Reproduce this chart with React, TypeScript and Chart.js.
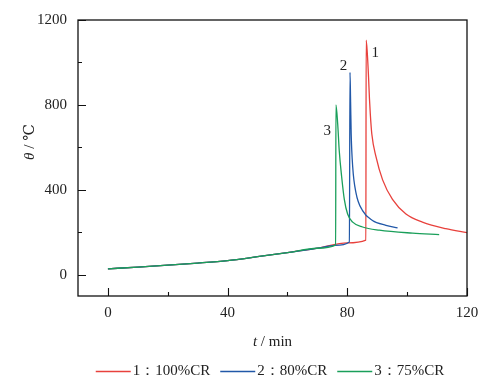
import React, { useEffect, useRef } from 'react';
import { Chart, registerables } from 'chart.js';
Chart.register(...registerables);

// Curve 1: 100%CR (red)
const redT = [0, 10, 20, 30, 40, 50, 60, 70, 80, 86.2, 86.3, 86.7, 87.1, 87.4, 87.7, 88.2, 89.6, 91.8, 95.1, 99.6, 105.1, 112.9, 120];
const redV = [28, 36, 45, 55, 67, 85, 104, 125, 150, 163, 1105, 1040, 930, 830, 754, 662, 555, 447, 355, 286, 248, 217, 198];
// Curve 2: 80%CR (blue)
const blueT = [0, 10, 20, 30, 40, 50, 60, 70, 76, 80.7, 80.9, 81.1, 81.3, 81.8, 82.9, 85.1, 88.4, 92.9, 96.8];
const blueV = [28, 36, 45, 55, 67, 85, 104, 125, 138, 154, 953, 815, 662, 509, 386, 302, 256, 233, 221];
// Curve 3: 75%CR (green)
const greenT = [0, 10, 20, 30, 40, 50, 60, 70, 76.1, 76.2, 76.8, 77.3, 78.1, 79, 80.1, 81.8, 85.1, 90.7, 101.8, 110.7];
const greenV = [28, 36, 45, 55, 67, 85, 104, 125, 141, 800, 708, 585, 463, 355, 286, 248, 225, 210, 196, 189];

const seriesNames = ['1：100%CR', '2：80%CR', '3：75%CR'];
const seriesColors = ['#e8413c', '#2158a8', '#1a9f5a'];
const curveLabels = ['1', '2', '3'];
const curveLabelT = [89.3, 78.7, 73.3];
const curveLabelV = [1044, 984, 676];

const xTicks = [0, 20, 40, 60, 80, 100, 120];
const xLabels = [0, 40, 80, 120];
const yTicks = [0, 200, 400, 600, 800, 1000, 1200];
const yLabels = [0, 400, 800, 1200];
const xMin = -10, xMax = 120, yMin = -100, yMax = 1200;

const FONT = '"Liberation Serif", "DejaVu Serif", serif';

const pts = (t: number[], v: number[]) => t.map((x, i) => ({ x, y: v[i] }));

const decorPlugin = {
  id: 'decor',
  afterDraw(chart: any) {
    const ctx = chart.ctx as CanvasRenderingContext2D;
    const { left, right, top, bottom } = chart.chartArea;
    const xs = chart.scales.x, ys = chart.scales.y;
    ctx.save();
    ctx.strokeStyle = '#111';
    ctx.lineWidth = 1.3;
    ctx.strokeRect(left, top, right - left, bottom - top);
    // inner ticks
    ctx.lineWidth = 1.1;
    ctx.beginPath();
    xTicks.forEach(v => {
      const px = Math.round(xs.getPixelForValue(v)) + 0.5;
      const len = xLabels.includes(v) ? 8 : 4;
      ctx.moveTo(px, bottom); ctx.lineTo(px, bottom - len);
    });
    yTicks.forEach(v => {
      const py = Math.round(ys.getPixelForValue(v)) + 0.5;
      const len = yLabels.includes(v) ? 8 : 4;
      ctx.moveTo(left, py); ctx.lineTo(left + len, py);
    });
    ctx.stroke();
    // curve labels
    ctx.fillStyle = '#222';
    ctx.font = `15px ${FONT}`;
    ctx.textAlign = 'center';
    ctx.textBaseline = 'middle';
    curveLabels.forEach((s, i) => {
      ctx.fillText(s, xs.getPixelForValue(curveLabelT[i]), ys.getPixelForValue(curveLabelV[i]));
    });
    // x title: "t / min"
    const cx = (left + right) / 2;
    ctx.textAlign = 'left';
    ctx.textBaseline = 'middle';
    ctx.font = `italic 15px ${FONT}`;
    const wt = ctx.measureText('t').width;
    ctx.font = `15px ${FONT}`;
    const wr = ctx.measureText(' / min').width;
    const x0 = cx - (wt + wr) / 2;
    ctx.font = `italic 15px ${FONT}`;
    ctx.fillText('t', x0, 342);
    ctx.font = `15px ${FONT}`;
    ctx.fillText(' / min', x0 + wt, 342);
    // y title: "θ / ℃"
    ctx.save();
    ctx.translate(30, 142);
    ctx.rotate(-Math.PI / 2);
    ctx.font = `italic 15px ${FONT}`;
    const wth = ctx.measureText('θ').width;
    ctx.font = `15px ${FONT}`;
    const wrest = ctx.measureText(' / ℃').width;
    const y0 = -(wth + wrest) / 2;
    ctx.font = `italic 15px ${FONT}`;
    ctx.fillText('θ', y0, 0);
    ctx.font = `15px ${FONT}`;
    ctx.fillText(' / ℃', y0 + wth, 0);
    ctx.restore();
    // legend
    ctx.font = `15px ${FONT}`;
    const lineLen = 35, gapA = 2, gapB = 10;
    const widths = seriesNames.map(s => ctx.measureText(s).width);
    const total = widths.reduce((a, b) => a + b, 0) + seriesNames.length * (lineLen + gapA) + (seriesNames.length - 1) * gapB;
    let lx = 270 - total / 2;
    const ly = 371;
    seriesNames.forEach((s, i) => {
      ctx.strokeStyle = seriesColors[i];
      ctx.lineWidth = 1.3;
      ctx.beginPath();
      ctx.moveTo(lx, ly + 0.5); ctx.lineTo(lx + lineLen, ly + 0.5);
      ctx.stroke();
      ctx.fillStyle = '#222';
      ctx.fillText(s, lx + lineLen + gapA, ly);
      lx += lineLen + gapA + widths[i] + gapB;
    });
    ctx.restore();
  },
};

export default function App() {
  const ref = useRef<HTMLCanvasElement>(null);
  useEffect(() => {
    if (!ref.current) return;
    const mk = (label: string, t: number[], v: number[], color: string) => ({
      label, data: pts(t, v), borderColor: color, backgroundColor: color,
      borderWidth: 1.3, pointRadius: 0, showLine: true, cubicInterpolationMode: 'monotone', fill: false,
    });
    const chart = new Chart(ref.current, {
      type: 'scatter',
      data: {
        datasets: [
          mk(seriesNames[2], greenT, greenV, seriesColors[2]),
          mk(seriesNames[1], blueT, blueV, seriesColors[1]),
          mk(seriesNames[0], redT, redV, seriesColors[0]),
        ],
      },
      options: {
        animation: false,
        responsive: false,
        devicePixelRatio: 1,
        layout: { padding: { left: 0, top: 13, right: 33, bottom: 34 } },
        plugins: { legend: { display: false }, tooltip: { enabled: false } },
        scales: {
          x: {
            type: 'linear', min: xMin, max: xMax,
            afterFit: (s: any) => { s.height = 58; },
            afterBuildTicks: (s: any) => { s.ticks = xTicks.map(v => ({ value: v })); },
            grid: { display: false, drawTicks: false },
            border: { display: false },
            ticks: {
              padding: 8, color: '#222', font: { family: FONT, size: 15 }, maxRotation: 0, autoSkip: false,
              callback: (v: any) => (xLabels.includes(Number(v)) ? String(v) : ''),
            },
          },
          y: {
            type: 'linear', min: yMin, max: yMax,
            afterFit: (s: any) => { s.width = 78; },
            afterBuildTicks: (s: any) => { s.ticks = yTicks.map(v => ({ value: v })); },
            grid: { display: false, drawTicks: false },
            border: { display: false },
            ticks: {
              padding: 11, color: '#222', font: { family: FONT, size: 15 }, autoSkip: false,
              callback: (v: any) => (yLabels.includes(Number(v)) ? String(v) : ''),
            },
          },
        },
      },
      plugins: [decorPlugin],
    } as any);
    return () => chart.destroy();
  }, []);
  return (
    <div style={{ position: 'absolute', left: 0, top: 0, width: 500, height: 388, background: '#fff' }}>
      <canvas ref={ref} width={500} height={388} style={{ display: 'block' }} />
    </div>
  );
}
